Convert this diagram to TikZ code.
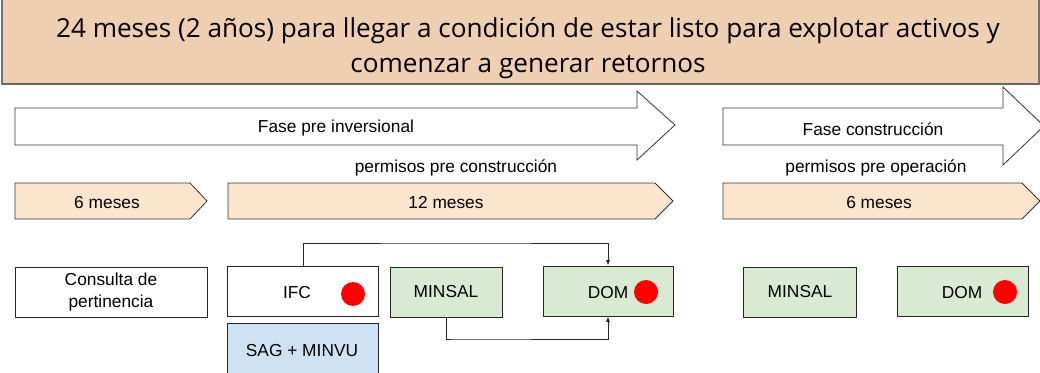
\documentclass[tikz,border=0pt]{standalone}
\usepackage{fontspec}
\setmainfont{Liberation Sans}
\newfontfamily\titlefont{Open Sans}
\usetikzlibrary{arrows.meta}
\definecolor{titlebg}{RGB}{239,207,178}
\definecolor{chev}{RGB}{252,229,205}
\definecolor{greenbg}{RGB}{217,234,211}
\definecolor{bluebg}{RGB}{207,226,243}
\definecolor{dotred}{RGB}{255,0,0}
\begin{document}
\begin{tikzpicture}[x=0.75pt,y=-0.75pt,
  lbl/.style={font=\fontsize{13}{15}\selectfont, inner sep=0pt},
  shapeline/.style={draw=black!80, line width=0.6pt},
  chevron/.style={shapeline, fill=chev},
  bigarrow/.style={shapeline, fill=white},
  box/.style={draw=black!85, line width=0.7pt, minimum height=50*0.75pt, inner sep=0pt, font=\fontsize{13}{15}\selectfont},
  dot/.style={circle, fill=dotred, minimum size=24*0.75pt, inner sep=0pt},
  conn/.style={draw=black!85, line width=0.6pt, -{Latex[length=4pt,width=3pt]}}
]
\useasboundingbox (0,0) rectangle (1040,372);
% title
\draw[fill=titlebg, draw=black!55, line width=0.8pt] (2,-2) rectangle (1039,84);
\draw[black!60, line width=1.2pt] (2,84) -- (1039,84);
\node[inner sep=0pt, align=center, font=\titlefont\fontsize{19.6}{26.5}\selectfont] (title) at (528,48)
  {24 meses (2 años) para llegar a condición de estar listo para explotar activos y\\comenzar a generar retornos};
% big arrows
\draw[bigarrow] (15,108) -- (637,108) -- (637,91) -- (675,125) -- (637,160) -- (637,145) -- (15,145) -- cycle;
\node[lbl] (fase1) at (336,128) {Fase pre inversional};
\draw[bigarrow] (723,108) -- (1003,108) -- (1003,87) -- (1044,126) -- (1003,165) -- (1003,145) -- (723,145) -- cycle;
\node[lbl] (fase2) at (873,129) {Fase construcción};
\node[lbl] (perm1) at (456,168) {permisos pre construcción};
\node[lbl] (perm2) at (876,168) {permisos pre operación};
% chevrons
\draw[chevron] (15,183) -- (190,183) -- (207,201) -- (190,219) -- (15,219) -- cycle;
\node[lbl] (m6a) at (107,203) {6 meses};
\draw[chevron] (228,183) -- (655,183) -- (673,201) -- (655,219) -- (228,219) -- cycle;
\node[lbl] (m12) at (446,203) {12 meses};
\draw[chevron] (723,183) -- (1022,183) -- (1040,201) -- (1022,219) -- (723,219) -- cycle;
\node[lbl] (m6b) at (879,203) {6 meses};
% boxes
\node[box, minimum width=192*0.75pt, align=center, font=\fontsize{13}{16}\selectfont] (cons) at (111,292) {Consulta de\\pertinencia};
\node[box, minimum width=151*0.75pt] (ifc) at (303,291) {};
\node[lbl] (ifct) at (297,293) {IFC};
\node[dot] (ifcdot) at (353,294) {};
\node[box, minimum width=151*0.75pt, minimum height=56*0.75pt, fill=bluebg] (sag) at (303,351) {};
\node[lbl] (sagt) at (302,351) {SAG + MINVU};
\node[box, minimum width=112*0.75pt, fill=greenbg] (minsal) at (446,292) {MINSAL};
\node[box, minimum width=130*0.75pt, fill=greenbg] (dom) at (608,291) {};
\node[lbl] (domt) at (608,293) {DOM};
\node[dot] (domdot) at (646,292) {};
\node[box, minimum width=113*0.75pt, fill=greenbg] (minsal2) at (800,292) {MINSAL};
\node[box, minimum width=131*0.75pt, fill=greenbg] (dom2) at (963,291) {};
\node[lbl] (dom2t) at (962,293) {DOM};
\node[dot] (dom2dot) at (1005,292) {};
% connectors
\coordinate (topline) at (456,243);
\coordinate (botline) at (456,339);
\draw[conn] (ifc.north) |- (topline) -| (dom.north);
\draw[conn] (minsal.south) |- (botline) -| (dom.south);
\end{tikzpicture}
\end{document}
